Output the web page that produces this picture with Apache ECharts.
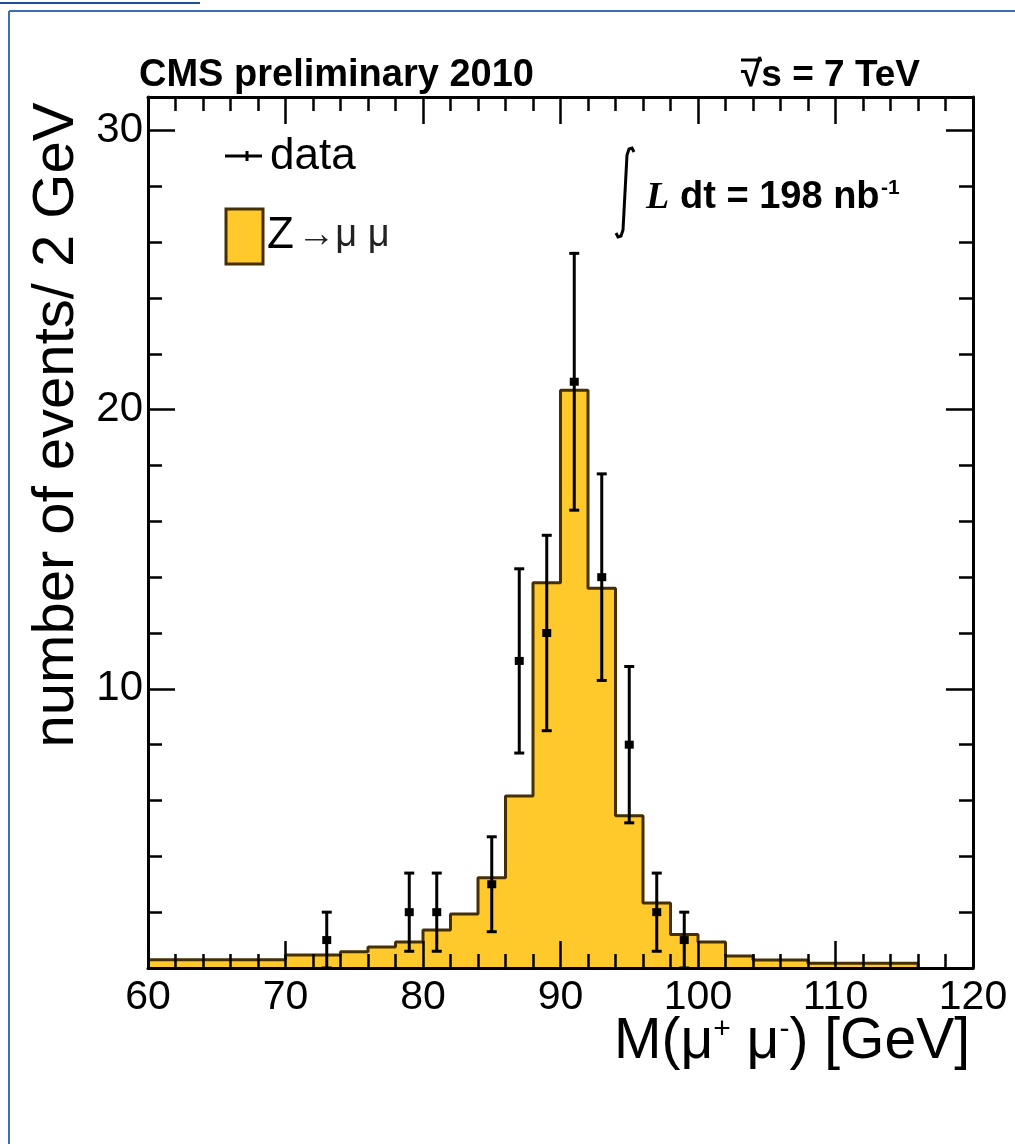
<!DOCTYPE html>
<html>
<head>
<meta charset="utf-8">
<script src="https://cdn.jsdelivr.net/npm/echarts@6/dist/echarts.min.js"></script>
<style>
  html, body { margin: 0; padding: 0; background: #fff; }
  #chart { width: 1015px; height: 1144px; }
</style>
</head>
<body>
<div id="chart"></div>
<script>
// Dimuon invariant mass, 2 GeV bins (lower bin edges, GeV)
const massBinLow = [60, 62, 64, 66, 68, 70, 72, 74, 76, 78, 80, 82, 84, 86, 88,
                    90, 92, 94, 96, 98, 100, 102, 104, 106, 108, 110, 112, 114, 116];
// Z -> mu mu expectation per bin
const zmumuEvents = [0.3, 0.3, 0.3, 0.3, 0.3, 0.47, 0.47, 0.58, 0.75, 0.93, 1.36, 1.93, 3.23, 6.16, 13.8,
                     20.7, 13.6, 5.45, 2.33, 1.2, 0.93, 0.43, 0.29, 0.29, 0.17, 0.17, 0.17, 0.17, 0];
// Observed events (bin centres, counts, statistical errors)
const dataMass   = [73, 79, 81, 85, 87, 89, 91, 93, 95, 97, 99];
const dataEvents = [1, 2, 2, 3, 11, 12, 21, 14, 8, 2, 1];
const dataError  = [1.0, 1.4, 1.4, 1.7, 3.3, 3.5, 4.6, 3.7, 2.8, 1.4, 1.0];
// Axis ticks
const yMajorTicks = [0, 10, 20, 30];
const yMinorTicks = [2, 4, 6, 8, 12, 14, 16, 18, 22, 24, 26, 28];
const yLabelTicks = [10, 20, 30];

const FONT = '"Liberation Sans", Arial, Helvetica, sans-serif';
const FILL = '#FFC92C';
const EDGE = '#453005';

const mcSteps = massBinLow.map((x, i) => [x, zmumuEvents[i]]);
const dataPoints = dataMass.map((x, i) => [x, dataEvents[i], dataError[i]]);

const tickStyle = { color: '#000', width: 2.5 };
const axisLineStyle = { show: true, onZero: false, lineStyle: { color: '#000', width: 3 } };

function xAxisDef(pos, withLabels) {
  return {
    type: 'value', position: pos, min: 60, max: 120, interval: 10, z: 5,
    axisLine: axisLineStyle,
    axisTick: { show: true, inside: true, length: 27, lineStyle: tickStyle },
    minorTick: { show: true, splitNumber: 5, length: 14, lineStyle: tickStyle },
    splitLine: { show: false }, minorSplitLine: { show: false },
    axisLabel: withLabels
      ? { show: true, color: '#000', fontSize: 41, fontFamily: FONT, margin: 9 }
      : { show: false }
  };
}
function yAxisDef(pos, ticks, len, withLine, withLabels) {
  return {
    type: 'value', position: pos, min: 0, max: 31.2, z: 5,
    axisLine: withLine ? axisLineStyle : { show: false, onZero: false },
    axisTick: { show: true, inside: true, length: len, lineStyle: tickStyle, customValues: ticks },
    minorTick: { show: false },
    splitLine: { show: false },
    axisLabel: withLabels
      ? { show: true, color: '#000', fontSize: 42, fontFamily: FONT, margin: 5, customValues: yLabelTicks }
      : { show: false }
  };
}

const option = {
  animation: false,
  backgroundColor: '#fff',
  grid: { left: 148, right: 42, top: 97, bottom: 176, containLabel: false },
  xAxis: [xAxisDef('bottom', true), xAxisDef('top', false)],
  yAxis: [
    yAxisDef('left', yMajorTicks, 27, true, true),
    yAxisDef('left', yMinorTicks, 14, false, false),
    yAxisDef('right', yMajorTicks, 27, true, false),
    yAxisDef('right', yMinorTicks, 14, false, false)
  ],
  series: [
    {
      name: 'Z→μμ', type: 'line', step: 'end', data: mcSteps,
      xAxisIndex: 0, yAxisIndex: 0, z: 2,
      showSymbol: false, symbol: 'none',
      lineStyle: { color: EDGE, width: 3 },
      areaStyle: { color: FILL, opacity: 1, origin: 'start' }
    },
    {
      name: 'data', type: 'custom', data: dataPoints,
      xAxisIndex: 0, yAxisIndex: 0, z: 10,
      renderItem: function (params, api) {
        const x = api.value(0), y = api.value(1), e = api.value(2);
        const p = api.coord([x, y]);
        const hi = api.coord([x, y + e]);
        const lo = api.coord([x, Math.max(0, y - e)]);
        const cap = 5;
        const st = { stroke: '#000', lineWidth: 3 };
        return {
          type: 'group',
          children: [
            { type: 'line', shape: { x1: p[0], y1: hi[1], x2: p[0], y2: lo[1] }, style: st },
            { type: 'line', shape: { x1: p[0] - cap, y1: hi[1], x2: p[0] + cap, y2: hi[1] }, style: st },
            { type: 'line', shape: { x1: p[0] - cap, y1: lo[1], x2: p[0] + cap, y2: lo[1] }, style: st },
            { type: 'rect', shape: { x: p[0] - 4.5, y: p[1] - 4, width: 9, height: 8 }, style: { fill: '#000' } }
          ]
        };
      }
    }
  ],
  graphic: [
    // page rules
    { type: 'line', shape: { x1: 0, y1: 3, x2: 200, y2: 3 }, style: { stroke: '#1f4f9a', lineWidth: 2 } },
    { type: 'line', shape: { x1: 9, y1: 11, x2: 1015, y2: 11 }, style: { stroke: '#3a6fb8', lineWidth: 2 } },
    { type: 'line', shape: { x1: 9, y1: 11, x2: 9, y2: 1144 }, style: { stroke: '#3a6fb8', lineWidth: 2 } },
    // header
    { type: 'text', x: 139, y: 76, style: { text: 'CMS preliminary 2010', font: 'bold 38px ' + FONT, fill: '#000', align: 'left', verticalAlign: 'middle' } },
    { type: 'text', x: 920, y: 76, style: { text: '√s = 7 TeV', font: 'bold 37px ' + FONT, fill: '#000', align: 'right', verticalAlign: 'middle' } },
    { type: 'line', shape: { x1: 741, y1: 60, x2: 762, y2: 60 }, style: { stroke: '#000', lineWidth: 3 } },
    // y title
    { type: 'text', x: 57, y: 425, rotation: Math.PI / 2, style: { text: 'number of events/ 2 GeV', font: '58px ' + FONT, fill: '#000', align: 'center', verticalAlign: 'middle' } },
    // x title
    { type: 'text', x: 970, y: 1041, style: {
        text: '{m|M(μ}{s|+}{m| μ}{s|-}{m|) [GeV]}', align: 'right', verticalAlign: 'middle',
        rich: {
          m: { font: '57px ' + FONT, fill: '#000', lineHeight: 60, verticalAlign: 'bottom' },
          s: { font: '30px ' + FONT, fill: '#000', lineHeight: 32, verticalAlign: 'bottom', padding: [0, 0, 26, 0] }
        } } },
    // legend: data
    { type: 'line', shape: { x1: 225, y1: 156, x2: 262, y2: 156 }, style: { stroke: '#000', lineWidth: 3 } },
    { type: 'line', shape: { x1: 247, y1: 151, x2: 247, y2: 161 }, style: { stroke: '#000', lineWidth: 3 } },
    { type: 'text', x: 270, y: 157, style: { text: 'data', font: '44px ' + FONT, fill: '#000', align: 'left', verticalAlign: 'middle' } },
    // legend: Z -> mu mu
    { type: 'rect', shape: { x: 226, y: 209, width: 37, height: 55 }, style: { fill: FILL, stroke: EDGE, lineWidth: 3 } },
    { type: 'text', x: 267, y: 236, style: {
        text: '{z|Z} {r|→μ μ}', align: 'left', verticalAlign: 'middle',
        rich: {
          z: { font: '44px ' + FONT, fill: '#000' },
          r: { font: '38px ' + FONT, fill: '#222' }
        } } },
    // integrated luminosity
    { type: 'polyline', shape: { points: [[634, 152], [632, 148], [629, 149], [627, 155], [623, 230], [621, 236], [618, 237], [616, 233]] },
      style: { stroke: '#000', lineWidth: 3, fill: null } },
    { type: 'text', x: 646, y: 198, style: { text: 'L', font: 'italic bold 38px "Liberation Serif", serif', fill: '#000', align: 'left', verticalAlign: 'middle' } },
    { type: 'text', x: 680, y: 198, style: { text: 'dt = 198 nb', font: 'bold 38px ' + FONT, fill: '#000', align: 'left', verticalAlign: 'middle' } },
    { type: 'text', x: 881, y: 188, style: { text: '-1', font: 'bold 21px ' + FONT, fill: '#000', align: 'left', verticalAlign: 'middle' } }
  ]
};

const chart = echarts.init(document.getElementById('chart'), null, { renderer: 'canvas' });
chart.setOption(option);
</script>
</body>
</html>
